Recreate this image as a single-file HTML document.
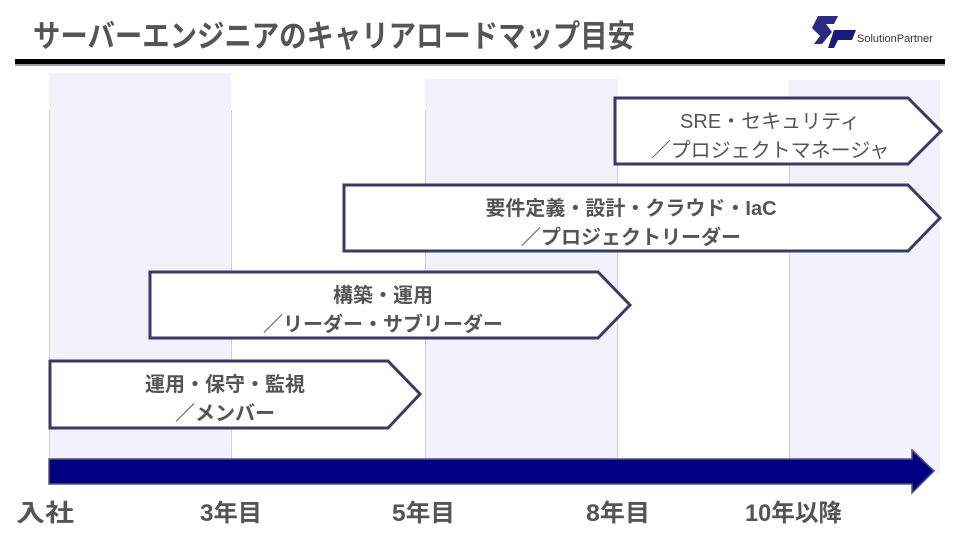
<!DOCTYPE html>
<html><head><meta charset="utf-8"><style>
body{margin:0;width:960px;height:540px;background:#fff;overflow:hidden;font-family:"Liberation Sans","Noto Sans CJK JP",sans-serif;}
</style></head><body>
<svg width="960" height="540" xmlns="http://www.w3.org/2000/svg" style="position:absolute;left:0;top:0">
<text x="33" y="47" font-size="31" font-weight="bold" fill="#555" textLength="602" lengthAdjust="spacingAndGlyphs" font-family="Liberation Sans,Noto Sans CJK JP,sans-serif">サーバーエンジニアのキャリアロードマップ目安</text>
<g>
<path d="M818 16 L838 16 L834 24 L826 24 L832 32 L822 44 L814 44 L820 36 L812 28 Z" fill="#2a2a80"/>
<path d="M834 30 L856 30 L852 40 L838 40 L834 48 L828 48 Z" fill="#1a1a7a"/>
<text x="857" y="42" font-size="11" fill="#333" font-family="Liberation Sans,sans-serif">SolutionPartner</text>
</g>
<rect x="15" y="59" width="930" height="5" fill="#000"/>
<rect x="15" y="64" width="930" height="2" fill="#9a9ab0"/>
<rect x="49" y="73" width="182" height="400" fill="#f2f2fc"/>
<rect x="425" y="79" width="193" height="394" fill="#f2f2fc"/>
<rect x="789" y="80" width="151" height="393" fill="#f2f2fc"/>
<g stroke="#d0d0dc" stroke-width="1">
<line x1="49.5" y1="110" x2="49.5" y2="482"/><line x1="231.5" y1="110" x2="231.5" y2="482"/>
<line x1="425.5" y1="110" x2="425.5" y2="482"/><line x1="617.5" y1="110" x2="617.5" y2="482"/>
<line x1="789.5" y1="110" x2="789.5" y2="482"/>
</g>
<g fill="#fff" stroke="#3a3a66" stroke-width="3" stroke-linejoin="miter">
<path d="M615 98 L908 98 L941 131 L908 164 L615 164 Z"/>
<path d="M344 185 L908 185 L940 218 L908 251 L344 251 Z"/>
<path d="M150 272 L598 272 L630 305 L598 338 L150 338 Z"/>
<path d="M50 361 L388 361 L420 394 L388 428 L50 428 Z"/>
</g>
<g font-size="20" font-weight="bold" fill="#555" text-anchor="middle" font-family="Liberation Sans,Noto Sans CJK JP,sans-serif">
<text x="770" y="128" font-weight="normal">SRE・セキュリティ</text>
<text x="770" y="157" font-weight="normal">／プロジェクトマネージャ</text>
<text x="631" y="215">要件定義・設計・クラウド・IaC</text>
<text x="631" y="244">／プロジェクトリーダー</text>
<text x="383" y="302">構築・運用</text>
<text x="383" y="331">／リーダー・サブリーダー</text>
<text x="225" y="391">運用・保守・監視</text>
<text x="225" y="420">／メンバー</text>
</g>
<path d="M49 459 L912 459 L912 450 L934 471 L912 493 L912 484 L49 484 Z" fill="#000080" stroke="#55557a" stroke-width="1.5"/>
<g font-size="24" font-weight="bold" fill="#555" lengthAdjust="spacingAndGlyphs" font-family="Liberation Sans,Noto Sans CJK JP,sans-serif">
<text x="16" y="521" textLength="58" lengthAdjust="spacingAndGlyphs">入社</text>
<text x="200" y="521" textLength="62" lengthAdjust="spacingAndGlyphs">3年目</text>
<text x="392" y="521" textLength="63" lengthAdjust="spacingAndGlyphs">5年目</text>
<text x="586" y="521" textLength="64" lengthAdjust="spacingAndGlyphs">8年目</text>
<text x="745" y="521" textLength="97" lengthAdjust="spacingAndGlyphs">10年以降</text>
</g>
</svg>
</body></html>
